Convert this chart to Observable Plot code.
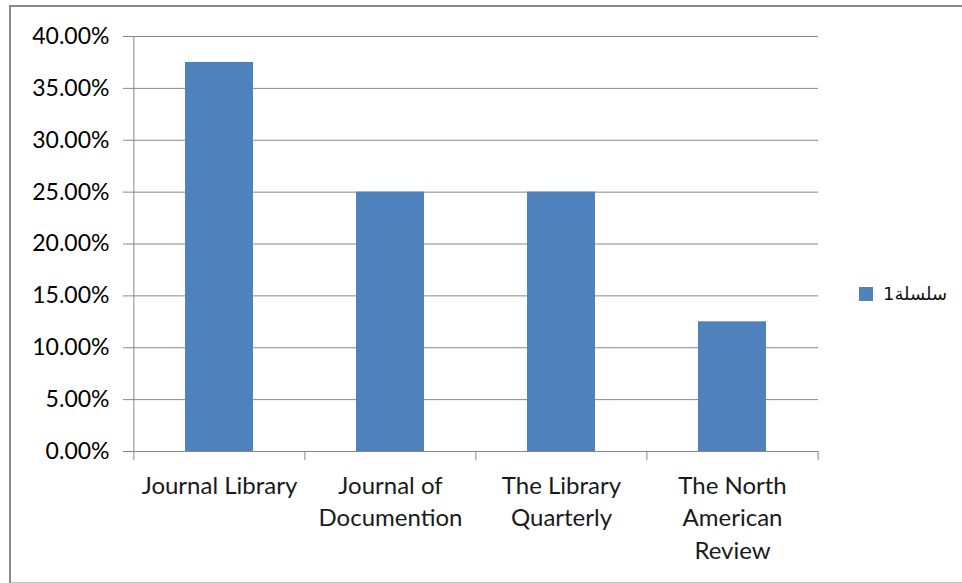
<!DOCTYPE html>
<html>
<head>
<meta charset="utf-8">
<script src="https://cdn.jsdelivr.net/npm/d3@7"></script>
<script src="https://cdn.jsdelivr.net/npm/@observablehq/plot@0.6"></script>
<style>
  html, body { margin: 0; padding: 0; background: #fff; }
  #wrap { position: relative; width: 962px; height: 583px; overflow: hidden; }
  #frame { position: absolute; left: 9px; top: 5px; width: 1000px; height: 575px;
           border-top: 2px solid #8a8a8a; border-left: 2px solid #8a8a8a; border-bottom: 2px solid #bdbdbd; }
  #chart { position: absolute; left: 0; top: 0; }
  #legend { position: absolute; left: 859px; top: 283px; display: flex; align-items: center;
            font-family: "DejaVu Sans", "Noto Sans", sans-serif; font-size: 18px; color: #111; }
  #legend .sw { width: 14px; height: 14px; background: #4F81BD; margin-right: 10px; }
</style>
</head>
<body>
<div id="wrap">
  <div id="frame"></div>
  <div id="chart"></div>
  <div id="legend"><div class="sw"></div><span id="legText"></span></div>
</div>
<script>
const categories = ["Journal Library", "Journal of Documention", "The Library Quarterly", "The North American Review"];
const labels = ["Journal Library", "Journal of\nDocumention", "The Library\nQuarterly", "The North\nAmerican\nReview"];
const values = [37.5, 25, 25, 12.5];
const yTicks = [0, 5, 10, 15, 20, 25, 30, 35, 40];
const seriesName = "سلسلة1";

document.getElementById("legText").textContent = seriesName;

const W = 962, H = 583, mL = 133, mR = 144, mT = 36, mB = 132;
const step = (W - mL - mR) / categories.length;
const data = categories.map((c, i) => ({category: c, value: values[i], label: labels[i]}));
const gridColor = "#878787";

const chart = Plot.plot({
  width: W, height: H,
  marginLeft: mL, marginRight: mR, marginTop: mT, marginBottom: mB,
  style: {fontFamily: "Lato, 'Open Sans', sans-serif", fontSize: "23px", background: "transparent", overflow: "visible"},
  x: {type: "band", domain: categories, paddingInner: 0.6, paddingOuter: 0.3, axis: null},
  y: {domain: [0, 40], axis: null},
  marks: [
    Plot.gridY(yTicks, {stroke: gridColor, strokeOpacity: 1, strokeWidth: 1}),
    Plot.axisY(yTicks, {tickSize: 10, tickPadding: 14, stroke: gridColor, label: null,
      tickFormat: d => d.toFixed(2) + "%", fontSize: 23, fill: "#000"}),
    Plot.barY(data, {x: "category", y: "value", fill: "#4F81BD"}),
    Plot.ruleX([categories[0]], {x: d => d, dx: -step / 2, stroke: gridColor}),
    Plot.ruleX(categories, {x: d => d, y1: 0, y2: 0, dx: -step / 2, insetBottom: -9, stroke: gridColor}),
    Plot.ruleX([categories[categories.length - 1]], {x: d => d, y1: 0, y2: 0, dx: step / 2, insetBottom: -9, stroke: gridColor}),
    Plot.text(data, {x: "category", y: 0, text: "label", lineAnchor: "top", dy: 20, lineHeight: 1.34,
      fill: "#1a1a1a", fontSize: 24})
  ]
});
document.getElementById("chart").appendChild(chart);
</script>
</body>
</html>
